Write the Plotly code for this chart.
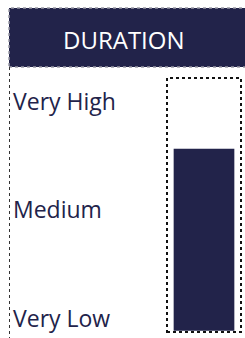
import plotly.graph_objects as go

# Data
title_text = "DURATION"
level_labels = ["Very Low", "Medium", "Very High"]
level_values = [5, 48, 91]          # positions on a 0-100 scale
duration_value = [72]               # bar value on 0-100 scale
categories = ["Duration"]

NAVY = "#22234a"
W, H = 245, 338

fig = go.Figure()
fig.add_trace(go.Bar(
    x=categories, y=duration_value, width=0.82,
    marker=dict(color=NAVY, line=dict(width=0)),
    hoverinfo="skip",
))

def px(x):
    return x / W

def py(y):
    return 1 - y / H

fig.update_layout(
    width=W, height=H,
    margin=dict(l=0, r=0, t=0, b=0),
    paper_bgcolor="white", plot_bgcolor="white",
    showlegend=False,
    xaxis=dict(domain=[px(167), px(241)], range=[-0.5, 0.5],
               visible=False, fixedrange=True),
    yaxis=dict(domain=[py(332), py(78)], range=[-0.5, 100],
               visible=False, fixedrange=True),
    font=dict(family="Open Sans, sans-serif", color=NAVY),
)

shapes = []
# header box
shapes.append(dict(type="rect", xref="paper", yref="paper",
                   x0=px(9), x1=px(246), y0=py(67), y1=py(8),
                   fillcolor=NAVY, line=dict(color="#9a9aa6", width=1.5, dash="dot"),
                   layer="below"))
# left dashed line
shapes.append(dict(type="line", xref="paper", yref="paper",
                   x0=px(9.5), x1=px(9.5), y0=py(67), y1=py(340),
                   line=dict(color="#333333", width=1, dash="dot")))
# gauge box
shapes.append(dict(type="rect", xref="paper", yref="paper",
                   x0=px(167), x1=px(241), y0=py(332), y1=py(78),
                   line=dict(color="#111111", width=2, dash="dot"),
                   layer="above"))
fig.update_layout(shapes=shapes)

ann = [dict(text=title_text, xref="paper", yref="paper",
            x=px(124), y=py(39), xanchor="center", yanchor="middle",
            showarrow=False, font=dict(size=24, color="white"))]
for lab, v in zip(level_labels, level_values):
    ann.append(dict(text=lab, xref="paper", yref="y", x=px(11), y=v,
                    xanchor="left", yanchor="middle", showarrow=False,
                    font=dict(size=23, color=NAVY)))
fig.update_layout(annotations=ann)

fig.write_html("out.html", config={"displayModeBar": False},
               post_script="document.body.style.margin='0px';document.body.style.overflow='hidden';")
